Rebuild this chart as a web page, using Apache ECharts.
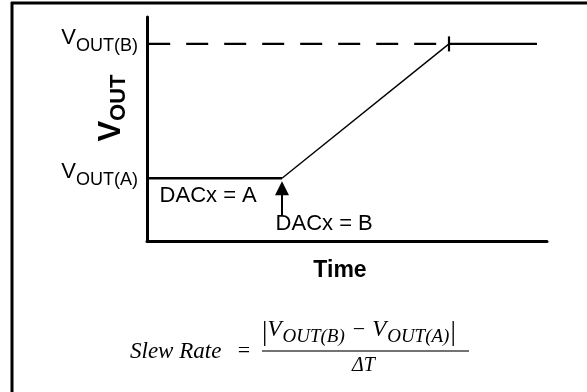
<!DOCTYPE html>
<html>
<head>
<meta charset="utf-8">
<script src="https://cdn.jsdelivr.net/npm/echarts@6/dist/echarts.min.js"></script>
<style>
html,body{margin:0;padding:0;background:#fff;}
#chart{width:587px;height:392px;}
</style>
</head>
<body>
<div id="chart"></div>
<script>
// ---- data ----
const timeStart = 0;
const timeStep = 33.75;     // DAC code changes A -> B
const timeSettle = 75.5;    // output reaches VOUT(B)
const timeEnd = 97.5;
const voutA = 7;
const voutB = 22;
const yTickLabels = ['{v|V}{s|OUT(A)}', '{v|V}{s|OUT(B)}'];
const annotationTexts = ['DACx = A', 'DACx = B'];
const annotationX = [15.3, 44.3];
const annotationY = [5.0, 1.9];
const arrowX = timeStep;
const arrowFrom = 2.9;
const arrowTo = 5.9;

const sans = '"Liberation Sans", Arial, sans-serif';
const serif = '"Liberation Serif", "Times New Roman", serif';

const chart = echarts.init(document.getElementById('chart'), null, {renderer: 'canvas'});

const option = {
  animation: false,
  backgroundColor: '#fff',
  grid: {left: 147, right: 40, top: 17, bottom: 151, containLabel: false},
  xAxis: {
    type: 'value', min: 0, max: 100,
    name: 'Time', nameLocation: 'middle', nameGap: 18, nameMoveOverlap: false,
    nameTextStyle: {fontFamily: sans, fontWeight: 'bold', fontSize: 23, color: '#000', padding: [0, 14, 0, 0]},
    axisLine: {show: true, lineStyle: {color: '#000', width: 3}},
    axisTick: {show: false}, axisLabel: {show: false}, splitLine: {show: false}
  },
  yAxis: {
    type: 'value', min: 0, max: 25, interval: 1,
    name: '{v|V}{s|OUT}', nameLocation: 'middle', nameRotate: 90, nameGap: 17, nameMoveOverlap: false,
    nameTextStyle: {
      color: '#000', padding: [0, 0, 0, 42],
      rich: {
        v: {fontFamily: sans, fontWeight: 'bold', fontSize: 31, color: '#000', verticalAlign: 'bottom', lineHeight: 30, padding: [0, 0, 3, 0]},
        s: {fontFamily: sans, fontWeight: 'bold', fontSize: 22, color: '#000', verticalAlign: 'bottom', lineHeight: 22}
      }
    },
    axisLine: {show: true, lineStyle: {color: '#000', width: 3}},
    axisTick: {show: false}, splitLine: {show: false},
    axisLabel: {
      show: true, margin: 9, color: '#000',
      formatter: function (val) {
        if (val === voutA) return yTickLabels[0];
        if (val === voutB) return yTickLabels[1];
        return '';
      },
      padding: [0, 0, 4, 0],
      rich: {
        v: {fontFamily: sans, fontSize: 22, color: '#000', verticalAlign: 'bottom', lineHeight: 26, padding: [0, 0, 6, 0]},
        s: {fontFamily: sans, fontSize: 18, color: '#000', verticalAlign: 'bottom', lineHeight: 22}
      }
    }
  },
  series: [
    {
      name: 'before', type: 'line', symbol: 'none', silent: true,
      lineStyle: {color: '#000', width: 2.5},
      data: [[timeStart, voutA], [timeStep, voutA]]
    },
    {
      name: 'ramp', type: 'line', symbol: 'none', silent: true,
      lineStyle: {color: '#000', width: 1.4},
      data: [[timeStep, voutA], [timeSettle, voutB]]
    },
    {
      name: 'after', type: 'line', symbol: 'none', silent: true,
      lineStyle: {color: '#000', width: 2.2},
      data: [[timeSettle, voutB], [timeEnd, voutB]]
    },
    {
      name: 'target', type: 'line', symbol: 'none', silent: true,
      lineStyle: {color: '#000', width: 2.2, type: [22, 16]},
      data: [[timeStart + 0.3, voutB], [timeSettle, voutB]]
    },
    {
      name: 'settle', type: 'scatter', silent: true,
      symbol: 'rect', symbolSize: [2.2, 15],
      itemStyle: {color: '#000', opacity: 1},
      data: [[timeSettle, voutB]]
    },
    {
      name: 'arrow', type: 'line', symbol: 'none', silent: true, data: [],
      markLine: {
        silent: true, symbol: ['none', 'triangle'], symbolSize: [14, 14],
        label: {show: false},
        lineStyle: {color: '#000', width: 2, type: 'solid', opacity: 1},
        data: [[{coord: [arrowX, arrowFrom]}, {coord: [arrowX, arrowTo]}]]
      }
    },
    {
      name: 'notes', type: 'scatter', silent: true, symbolSize: 0,
      itemStyle: {color: '#000', opacity: 1},
      data: annotationTexts.map((t, i) => ({value: [annotationX[i], annotationY[i]], name: t})),
      label: {
        show: true, position: 'inside', formatter: '{b}', opacity: 1,
        fontFamily: sans, fontSize: 22, color: '#000', textBorderWidth: 0
      }
    }
  ],
  graphic: [
    {type: 'line', shape: {x1: 11, y1: 3, x2: 587, y2: 3}, style: {stroke: '#000', lineWidth: 3}},
    {type: 'line', shape: {x1: 12, y1: 2, x2: 12, y2: 392}, style: {stroke: '#000', lineWidth: 3}},
    {
      type: 'text', left: 130, top: 340,
      style: {
        text: '{t|Slew Rate}{e|   =}', fill: '#000',
        rich: {
          t: {fontFamily: serif, fontStyle: 'italic', fontSize: 23, fill: '#000'},
          e: {fontFamily: serif, fontSize: 22, fill: '#000'}
        }
      }
    },
    {
      type: 'text', left: 262, top: 318,
      style: {
        text: '{b||}{v|V}{s|OUT(B)}{m|−}{v|V}{s|OUT(A)}{b||}', fill: '#000',
        rich: {
          b: {fontFamily: serif, fontSize: 27, fill: '#000', verticalAlign: 'bottom', lineHeight: 29},
          v: {fontFamily: serif, fontStyle: 'italic', fontSize: 23, fill: '#000', verticalAlign: 'bottom', lineHeight: 25, padding: [0, 1, 5, 0]},
          s: {fontFamily: serif, fontStyle: 'italic', fontSize: 19, fill: '#000', verticalAlign: 'bottom', lineHeight: 20, padding: [0, 1, 0, 0]},
          m: {fontFamily: serif, fontSize: 22, fill: '#000', verticalAlign: 'bottom', lineHeight: 25, padding: [0, 7, 5, 7]}
        }
      }
    },
    {type: 'line', shape: {x1: 262, y1: 351, x2: 469, y2: 351}, style: {stroke: '#444', lineWidth: 1.5}},
    {
      type: 'text', left: 352, top: 356,
      style: {text: 'ΔT', fill: '#000', font: 'italic 20px "Liberation Serif", serif'}
    }
  ]
};
chart.setOption(option);
</script>
</body>
</html>
